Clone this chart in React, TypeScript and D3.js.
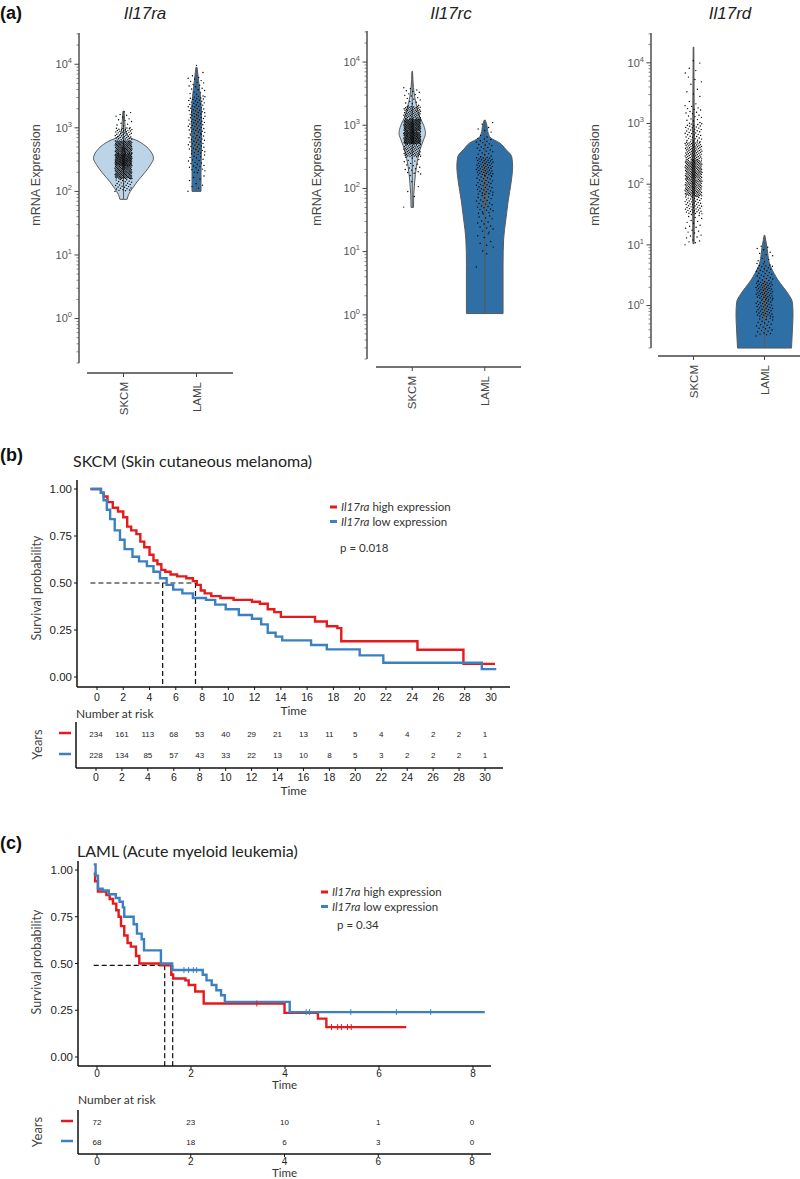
import React from 'react'
import * as d3 from 'd3'

const cancers = ['SKCM', 'LAML']
const genes = ['Il17ra', 'Il17rc', 'Il17rd']
const expressionTicks = [1, 10, 100, 1000, 10000]

// violin outlines: [log10 expression, relative half width]
const il17raSkcmShape = [[1.875, 0.12], [1.95, 0.17], [2.05, 0.3], [2.15, 0.45], [2.3, 0.72], [2.42, 0.9], [2.52, 1.0], [2.62, 0.92], [2.72, 0.72], [2.8, 0.45], [2.85, 0.2], [2.95, 0.07], [3.1, 0.04], [3.26, 0.02]]
const il17raLamlShape = [[2.0, 0.15], [2.3, 0.15], [2.6, 0.16], [2.9, 0.17], [3.2, 0.17], [3.5, 0.13], [3.7, 0.08], [3.95, 0.02]]
const il17rcSkcmShape = [[1.7, 0.04], [1.9, 0.05], [2.1, 0.08], [2.35, 0.14], [2.6, 0.25], [2.75, 0.36], [2.87, 0.44], [3.0, 0.38], [3.13, 0.25], [3.3, 0.15], [3.45, 0.08], [3.6, 0.04], [3.85, 0.01]]
const il17rcLamlShape = [[0.02, 0.61], [0.8, 0.61], [1.2, 0.63], [1.5, 0.7], [1.8, 0.78], [2.1, 0.88], [2.35, 0.93], [2.5, 0.9], [2.62, 0.7], [2.72, 0.5], [2.8, 0.2], [2.87, 0.12], [3.0, 0.07], [3.08, 0.02]]
const il17rdSkcmShape = [[1.02, 0.02], [1.6, 0.03], [2.2, 0.04], [2.8, 0.03], [3.5, 0.02], [4.26, 0.01]]
const il17rdLamlShape = [[-0.7, 0.9], [-0.4, 0.93], [-0.15, 0.95], [0.05, 0.93], [0.2, 0.78], [0.3, 0.63], [0.42, 0.45], [0.53, 0.32], [0.7, 0.16], [0.85, 0.11], [0.97, 0.08], [1.08, 0.04], [1.16, 0.01]]

// inner box: [min, q1, median, q3, max] in log10
const il17raSkcmBox = [1.875, 2.34, 2.52, 2.7, 3.26]
const il17raLamlBox = [2.0, 2.6, 2.95, 3.3, 3.95]
const il17rcSkcmBox = [1.7, 2.7, 2.88, 3.04, 3.85]
const il17rcLamlBox = [0.02, 1.7, 2.08, 2.4, 3.08]
const il17rdSkcmBox = [1.02, 1.95, 2.26, 2.6, 4.26]
const il17rdLamlBox = [-0.7, -0.22, 0.08, 0.4, 1.16]

// sample dots, counted per band: [log10 from, log10 to, count]
const il17raSkcmDots = [[2.0, 2.2, 30], [2.2, 2.4, 110], [2.4, 2.6, 150], [2.6, 2.8, 110], [2.8, 3.0, 45], [3.0, 3.26, 15]]
const il17raLamlDots = [[2.0, 2.3, 10], [2.3, 2.6, 25], [2.6, 2.9, 35], [2.9, 3.2, 40], [3.2, 3.5, 40], [3.5, 3.8, 20], [3.8, 4.0, 3]]
const il17rcSkcmDots = [[1.7, 2.2, 5], [2.2, 2.5, 20], [2.5, 2.7, 60], [2.7, 2.9, 150], [2.9, 3.1, 140], [3.1, 3.3, 65], [3.3, 3.6, 20]]
const il17rcLamlDots = [[0.75, 1.0, 2], [1.0, 1.3, 8], [1.3, 1.6, 15], [1.6, 1.9, 25], [1.9, 2.2, 35], [2.2, 2.5, 55], [2.5, 2.8, 25], [2.8, 3.05, 8]]
const il17rdSkcmDots = [[1.0, 1.5, 25], [1.5, 1.8, 50], [1.8, 2.1, 110], [2.1, 2.4, 120], [2.4, 2.7, 80], [2.7, 3.0, 40], [3.0, 3.3, 20], [3.3, 3.8, 10], [3.8, 4.05, 5]]
const il17rdLamlDots = [[-0.5, -0.2, 25], [-0.2, 0.1, 45], [0.1, 0.4, 55], [0.4, 0.7, 30], [0.7, 1.0, 12]]

// Kaplan-Meier steps: [years, survival]
const skcmHigh = [[-0.5, 1.0], [0.3, 0.98], [0.5, 0.96], [0.8, 0.93], [1.2, 0.9], [1.6, 0.88], [2.0, 0.85], [2.3, 0.8], [2.6, 0.78], [3.0, 0.76], [3.3, 0.72], [3.6, 0.69], [4.0, 0.65], [4.3, 0.62], [4.6, 0.6], [4.9, 0.57], [5.2, 0.56], [5.6, 0.545], [6.1, 0.535], [6.8, 0.525], [7.3, 0.51], [7.6, 0.49], [7.9, 0.46], [8.2, 0.445], [8.7, 0.43], [9.4, 0.42], [10.4, 0.41], [11.8, 0.4], [12.4, 0.39], [13.0, 0.36], [13.5, 0.345], [14.0, 0.32], [16.6, 0.295], [17.5, 0.27], [18.3, 0.26], [18.6, 0.19], [24.4, 0.145], [27.9, 0.07], [30.3, 0.07]]
const skcmLow = [[-0.5, 1.0], [0.3, 0.98], [0.5, 0.94], [0.75, 0.89], [1.0, 0.84], [1.35, 0.78], [1.75, 0.73], [2.1, 0.68], [2.7, 0.64], [3.2, 0.615], [3.8, 0.59], [4.3, 0.56], [4.8, 0.525], [5.3, 0.49], [5.8, 0.465], [6.5, 0.445], [7.3, 0.42], [8.3, 0.41], [9.0, 0.385], [9.8, 0.36], [10.8, 0.33], [11.8, 0.31], [12.5, 0.28], [13.0, 0.235], [13.6, 0.215], [14.1, 0.195], [16.3, 0.17], [17.5, 0.147], [20.0, 0.115], [21.8, 0.076], [29.3, 0.042], [30.4, 0.042]]
const lamlHigh = [[-0.07, 0.98], [-0.04, 0.94], [0.02, 0.885], [0.2, 0.866], [0.27, 0.845], [0.34, 0.82], [0.41, 0.785], [0.46, 0.75], [0.51, 0.7], [0.58, 0.65], [0.65, 0.61], [0.72, 0.59], [0.83, 0.54], [0.9, 0.5], [1.35, 0.49], [1.58, 0.44], [1.62, 0.42], [1.88, 0.41], [1.95, 0.385], [2.09, 0.35], [2.27, 0.286], [3.99, 0.236], [4.7, 0.205], [4.88, 0.16], [6.58, 0.16]]
const lamlLow = [[-0.07, 1.03], [-0.03, 0.97], [0.02, 0.9], [0.12, 0.89], [0.25, 0.87], [0.4, 0.85], [0.48, 0.83], [0.55, 0.8], [0.58, 0.75], [0.78, 0.71], [0.85, 0.66], [0.95, 0.63], [1.0, 0.57], [1.36, 0.5], [1.6, 0.465], [2.25, 0.44], [2.33, 0.41], [2.44, 0.385], [2.54, 0.357], [2.64, 0.33], [2.72, 0.295], [4.1, 0.24], [8.25, 0.24]]
const lamlHighCensor = [3.4, 4.99, 5.12, 5.2, 5.33, 5.41]
const lamlLowCensor = [1.85, 1.95, 2.05, 2.12, 4.45, 4.52, 5.4, 6.37, 7.1]
const skcmMedians = [5.0, 7.5]
const lamlMedians = [1.44, 1.61]

// number at risk
const skcmRiskTimes = [0, 2, 4, 6, 8, 10, 12, 14, 16, 18, 20, 22, 24, 26, 28, 30]
const skcmHighRisk = [234, 161, 113, 68, 53, 40, 29, 21, 13, 11, 5, 4, 4, 2, 2, 1]
const skcmLowRisk = [228, 134, 85, 57, 43, 33, 22, 13, 10, 8, 5, 3, 2, 2, 2, 1]
const lamlRiskTimes = [0, 2, 4, 6, 8]
const lamlHighRisk = [72, 23, 10, 1, 0]
const lamlLowRisk = [68, 18, 6, 3, 0]

const RED = '#e41a1c'
const BLUE = '#3a80c2'
const CAL = 'Lato, "Open Sans", sans-serif'
const ARIAL = '"Liberation Sans", Arial, sans-serif'

const violinPanels = [
  { gene: genes[0], axisX: 79, top: 33, bottom: 363, baseY: 373, xFrom: 87, xTo: 233, labelX: 36, titleX: 145,
    shapes: [il17raSkcmShape, il17raLamlShape], boxes: [il17raSkcmBox, il17raLamlBox], dots: [il17raSkcmDots, il17raLamlDots] },
  { gene: genes[1], axisX: 367, top: 31, bottom: 359, baseY: 367, xFrom: 376, xTo: 521, labelX: 317, titleX: 451,
    shapes: [il17rcSkcmShape, il17rcLamlShape], boxes: [il17rcSkcmBox, il17rcLamlBox], dots: [il17rcSkcmDots, il17rcLamlDots] },
  { gene: genes[2], axisX: 651, top: 33, bottom: 348, baseY: 356, xFrom: 658, xTo: 800, labelX: 595, titleX: 730,
    shapes: [il17rdSkcmShape, il17rdLamlShape], boxes: [il17rdSkcmBox, il17rdLamlBox], dots: [il17rdSkcmDots, il17rdLamlDots] },
]

// lay the counted dots out inside their band (strip-plot style spread)
const spreadDots = (bins) => {
  const out = []
  bins.forEach(([lo, hi, n], bi) => {
    for (let i = 0; i < n; i++) {
      const f = (i * 0.7548776 + bi * 0.21) % 1
      const v = lo + ((i + 0.5 + 0.9 * (f - 0.5)) / n) * (hi - lo)
      const j = ((i * 0.618034 + bi * 0.377) % 1) * 2 - 1
      out.push([v, j])
    }
  })
  return out
}

const ViolinPanel = ({ p }) => {
  const y = d3.scaleLog().domain([0.2, 31000]).range([p.bottom, p.top])
  const x = d3.scalePoint().domain(cancers).range([p.xFrom, p.xTo]).padding(0.5)
  const w = d3.scaleLinear().domain([0, 1]).range([0, 30])
  const fills = ['#bbd4e7', '#2e6fa5']

  const minor = []
  for (let e = -1; e <= 4; e++) {
    for (let k = 2; k <= 9; k++) {
      const v = k * 10 ** e
      if (v >= 0.2 && v <= 31000) minor.push(v)
    }
  }

  return (
    <g>
      <text x={p.titleX} y={19} textAnchor="middle" fontFamily={ARIAL} fontStyle="italic" fontSize={17} fill="#222">{p.gene}</text>
      <text transform={`translate(${p.labelX},175) rotate(-90)`} textAnchor="middle" dy="0.35em" fontFamily={ARIAL} fontSize={12.5} fill="#444">mRNA Expression</text>

      {cancers.map((c, ci) => {
        const cx = x(c)
        const area = d3.area()
          .y(d => y(10 ** d[0]))
          .x0(d => cx - w(d[1]))
          .x1(d => cx + w(d[1]))
          .curve(d3.curveMonotoneY)
        const b = p.boxes[ci]
        return (
          <g key={c}>
            <path d={area(p.shapes[ci])} fill={fills[ci]} stroke="#5a5a5a" strokeWidth={1} />
            <line x1={cx} x2={cx} y1={y(10 ** b[0])} y2={y(10 ** b[4])} stroke="#5a5a5a" strokeWidth={1} />
            <line x1={cx} x2={cx} y1={y(10 ** b[1])} y2={y(10 ** b[3])} stroke="#5f5f5f" strokeWidth={3.5} />
            {spreadDots(p.dots[ci]).map((d, i) => (
              <circle key={i} cx={cx + d[1] * 8.5} cy={y(10 ** d[0])} r={0.7} fill="#000" />
            ))}
          </g>
        )
      })}

      <line x1={p.axisX} x2={p.axisX} y1={p.top} y2={p.bottom} stroke="#444" strokeWidth={1.4} />
      {minor.map(v => (
        <line key={v} x1={p.axisX - 2.5} x2={p.axisX} y1={y(v)} y2={y(v)} stroke="#555" strokeWidth={0.7} />
      ))}
      {expressionTicks.map((v, i) => (
        <g key={v}>
          <line x1={p.axisX - 4.5} x2={p.axisX} y1={y(v)} y2={y(v)} stroke="#444" strokeWidth={1} />
          <text x={p.axisX - 7} y={y(v)} dy="0.35em" textAnchor="end" fontFamily={ARIAL} fontSize={11} fill="#555">
            10<tspan dy="-5" fontSize={7.5}>{i}</tspan>
          </text>
        </g>
      ))}

      <line x1={p.xFrom} x2={p.xTo} y1={p.baseY} y2={p.baseY} stroke="#444" strokeWidth={1.4} />
      {cancers.map(c => (
        <g key={c}>
          <line x1={x(c)} x2={x(c)} y1={p.baseY} y2={p.baseY + 4} stroke="#444" strokeWidth={1} />
          <text transform={`translate(${x(c)},${p.baseY + 9}) rotate(-90)`} textAnchor="end" dy="0.35em" fontFamily={ARIAL} fontSize={11.5} fill="#444">{c}</text>
        </g>
      ))}
    </g>
  )
}

const survivalAt = (curve, t) => {
  let s = curve[0][1]
  for (const [ti, si] of curve) if (ti <= t) s = si
  return s
}

const KMPanel = ({ k }) => {
  const x = d3.scaleLinear().domain([0, k.tMax]).range(k.xRange)
  const y = d3.scaleLinear().domain([0, 1]).range(k.yRange)
  const tx = d3.scaleLinear().domain([0, k.tMax]).range(k.tableRange)
  const line = d3.line().x(d => x(d[0])).y(d => y(d[1])).curve(d3.curveStepAfter)
  const xt = d3.range(0, k.tMax + 0.01, k.tickStep)
  const yt = [0, 0.25, 0.5, 0.75, 1]
  const midX = (k.box.left + k.box.right) / 2

  return (
    <g>
      <text x={0} y={k.letterY} fontFamily={ARIAL} fontWeight="bold" fontSize={18} fill="#111">{k.letter}</text>
      <text x={k.titleX} y={k.titleY} fontFamily={CAL} fontSize={16} fill="#222">{k.title}</text>

      <text transform={`translate(37,${k.ylabelY}) rotate(-90)`} textAnchor="middle" dy="0.35em" fontFamily={CAL} fontSize={12.5} fill="#444">Survival probability</text>

      {k.medians.map(m => (
        <line key={m} x1={x(m)} x2={x(m)} y1={y(k.medianLevel)} y2={k.box.bottom} stroke="#111" strokeWidth={1.2} strokeDasharray="5,3" />
      ))}
      <line x1={x(k.curves[0][0][0])} x2={x(d3.max(k.medians))} y1={y(k.medianLevel)} y2={y(k.medianLevel)} stroke="#111" strokeWidth={1.2} strokeDasharray="5,3" />

      {k.curves.map((c, i) => (
        <path key={i} d={line(c)} fill="none" stroke={i === 0 ? RED : BLUE} strokeWidth={2.4} />
      ))}
      {k.censors.map((cs, i) => cs.map(t => (
        <line key={`${i}-${t}`} x1={x(t)} x2={x(t)} y1={y(survivalAt(k.curves[i], t)) - 3} y2={y(survivalAt(k.curves[i], t)) + 3} stroke={i === 0 ? RED : BLUE} strokeWidth={1} />
      )))}

      <line x1={k.box.left} x2={k.box.left} y1={k.box.top} y2={k.box.bottom} stroke="#111" strokeWidth={1.5} />
      <line x1={k.box.left} x2={k.box.right} y1={k.box.bottom} y2={k.box.bottom} stroke="#111" strokeWidth={1.5} />
      {yt.map(v => (
        <g key={v}>
          <line x1={k.box.left - 3} x2={k.box.left} y1={y(v)} y2={y(v)} stroke="#111" strokeWidth={1} />
          <text x={k.box.left - 5} y={y(v)} dy="0.35em" textAnchor="end" fontFamily={ARIAL} fontSize={11.5} fill="#222">{v.toFixed(2)}</text>
        </g>
      ))}
      {xt.map(v => (
        <g key={v}>
          <line x1={x(v)} x2={x(v)} y1={k.box.bottom} y2={k.box.bottom + 3} stroke="#111" strokeWidth={1} />
          <text x={x(v)} y={k.box.bottom + k.gap.tick} dy="0.35em" textAnchor="middle" fontFamily={ARIAL} fontSize={k.gap.tickSize} fill="#222">{v}</text>
        </g>
      ))}
      <text x={midX} y={k.box.bottom + k.gap.time} dy="0.35em" textAnchor="middle" fontFamily={CAL} fontSize={k.gap.timeSize} fill="#333">Time</text>

      {['high', 'low'].map((lvl, i) => (
        <g key={lvl}>
          <line x1={k.legend.x} x2={k.legend.x + 7} y1={k.legend.y + i * 14.5} y2={k.legend.y + i * 14.5} stroke={i === 0 ? RED : BLUE} strokeWidth={3} />
          <text x={k.legend.x + 11} y={k.legend.y + i * 14.5} dy="0.35em" fontFamily={CAL} fontSize={11.5} fill="#333">
            <tspan fontStyle="italic">Il17ra</tspan> {lvl} expression
          </text>
        </g>
      ))}
      <text x={k.legend.px} y={k.legend.py} dy="0.35em" fontFamily={CAL} fontSize={11.5} fill="#333">{k.pval}</text>

      {/* risk table */}
      <text x={k.table.left} y={k.table.titleY} dy="0.35em" fontFamily={CAL} fontSize={12} fill="#333">Number at risk</text>
      <text transform={`translate(37,${(k.table.rows[0] + k.table.rows[1]) / 2}) rotate(-90)`} textAnchor="middle" dy="0.35em" fontFamily={CAL} fontSize={13} fill="#444">Years</text>
      {k.risks.map((r, i) => (
        <g key={i}>
          <line x1={k.table.left - 17} x2={k.table.left - 5} y1={k.table.rows[i] - 1} y2={k.table.rows[i] - 1} stroke={i === 0 ? RED : BLUE} strokeWidth={2.5} />
          {r.map((n, j) => (
            <text key={j} x={tx(k.riskTimes[j])} y={k.table.rows[i]} dy="0.35em" textAnchor="middle" fontFamily={ARIAL} fontSize={8} fill="#222">{n}</text>
          ))}
        </g>
      ))}
      <line x1={k.table.left} x2={k.table.left} y1={k.table.top} y2={k.table.bottom} stroke="#111" strokeWidth={1.5} />
      <line x1={k.table.left} x2={k.table.right} y1={k.table.bottom} y2={k.table.bottom} stroke="#111" strokeWidth={1.5} />
      {xt.map(v => (
        <g key={v}>
          <line x1={tx(v)} x2={tx(v)} y1={k.table.bottom} y2={k.table.bottom + 3} stroke="#111" strokeWidth={1} />
          <text x={tx(v)} y={k.table.bottom + k.gap.tableTick} dy="0.35em" textAnchor="middle" fontFamily={ARIAL} fontSize={k.gap.tickSize} fill="#222">{v}</text>
        </g>
      ))}
      <text x={midX} y={k.table.bottom + k.gap.tableTime} dy="0.35em" textAnchor="middle" fontFamily={CAL} fontSize={k.gap.timeSize} fill="#333">Time</text>
    </g>
  )
}

const kmPanels = [
  { letter: '(b)', letterY: 461, title: 'SKCM (Skin cutaneous melanoma)', titleX: 73, titleY: 467, ylabelY: 588,
    tMax: 30, tickStep: 2, xRange: [97, 491], yRange: [677, 489], tableRange: [96, 485],
    box: { left: 77, right: 510, top: 480, bottom: 687 },
    gap: { tick: 10, time: 24, tableTick: 9, tableTime: 23, tickSize: 10.5, timeSize: 12 },
    curves: [skcmHigh, skcmLow], censors: [[], []], medians: skcmMedians, medianLevel: 0.5,
    legend: { x: 330, y: 507, px: 340, py: 548 }, pval: 'p = 0.018',
    riskTimes: skcmRiskTimes, risks: [skcmHighRisk, skcmLowRisk],
    table: { left: 76, right: 503, top: 722, bottom: 768, titleY: 714, rows: [734, 755] } },
  { letter: '(c)', letterY: 849, title: 'LAML (Acute myeloid leukemia)', titleX: 77, titleY: 857, ylabelY: 962,
    tMax: 8, tickStep: 2, xRange: [97, 473], yRange: [1057, 870], tableRange: [97, 472],
    box: { left: 78, right: 491, top: 861, bottom: 1066 },
    gap: { tick: 7, time: 19, tableTick: 7, tableTime: 18.5, tickSize: 10, timeSize: 11.5 },
    curves: [lamlHigh, lamlLow], censors: [lamlHighCensor, lamlLowCensor], medians: lamlMedians, medianLevel: 0.49,
    legend: { x: 321, y: 892, px: 337, py: 925 }, pval: 'p = 0.34',
    riskTimes: lamlRiskTimes, risks: [lamlHighRisk, lamlLowRisk],
    table: { left: 78, right: 491, top: 1110, bottom: 1154, titleY: 1100, rows: [1122, 1142] } },
]

export default function App() {
  return (
    <svg width={800} height={1179} viewBox="0 0 800 1179" style={{ position: 'absolute', left: 0, top: 0, background: '#fff' }}>
      <rect width={800} height={1179} fill="#fff" />
      <text x={0} y={19} fontFamily={ARIAL} fontWeight="bold" fontSize={18} fill="#111">(a)</text>
      {violinPanels.map(p => <ViolinPanel key={p.gene} p={p} />)}
      {kmPanels.map(k => <KMPanel key={k.letter} k={k} />)}
    </svg>
  )
}
